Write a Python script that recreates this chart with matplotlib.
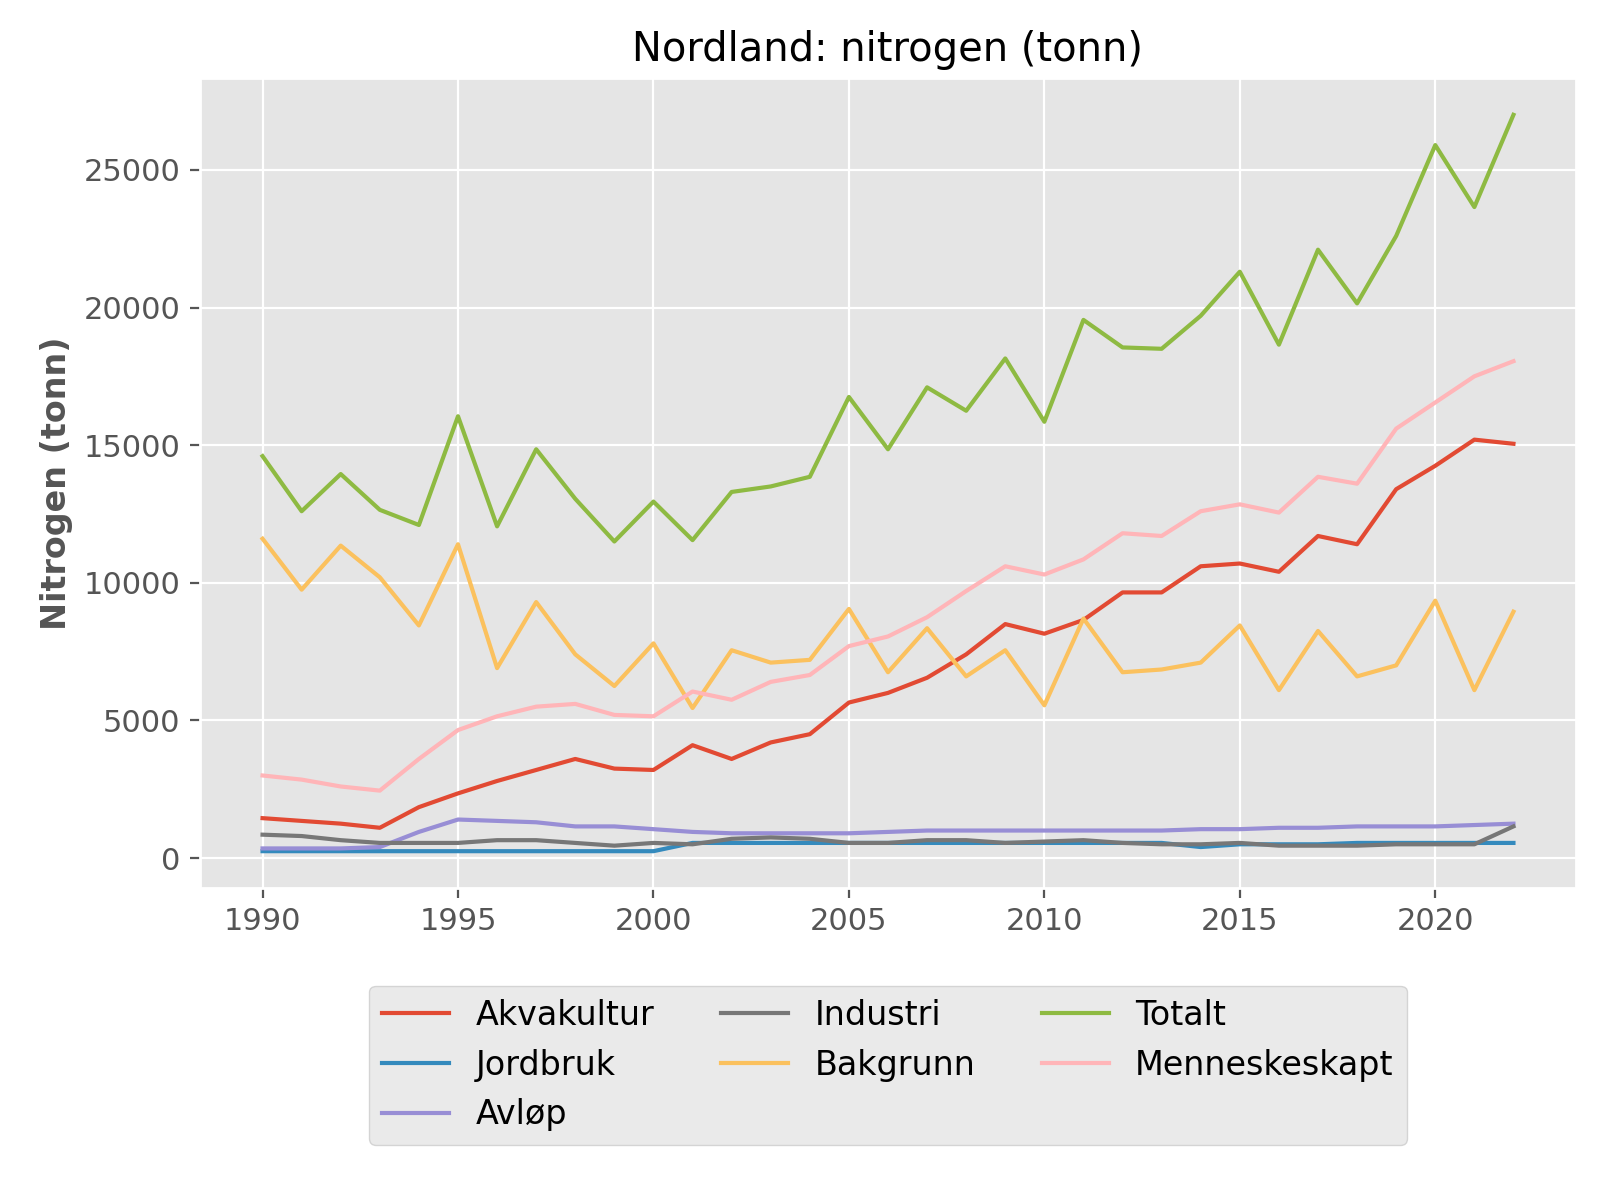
import matplotlib
matplotlib.use("Agg")
import matplotlib.pyplot as plt
import numpy as np

plt.style.use("ggplot")

years = np.arange(1990, 2023)
akvakultur = [1450, 1350, 1250, 1100, 1850, 2350, 2800, 3200, 3600, 3250, 3200, 4100, 3600, 4200, 4500,
              5650, 6000, 6550, 7400, 8500, 8150, 8650, 9650, 9650, 10600, 10700, 10400, 11700, 11400,
              13400, 14250, 15200, 15050]
jordbruk = [250, 250, 250, 250, 250, 250, 250, 250, 250, 250, 250, 550, 550, 550, 550, 550, 550, 550, 550,
            550, 550, 550, 550, 550, 400, 500, 500, 500, 550, 550, 550, 550, 550]
avlop = [350, 350, 350, 400, 950, 1400, 1350, 1300, 1150, 1150, 1050, 950, 900, 900, 900, 900, 950, 1000,
         1000, 1000, 1000, 1000, 1000, 1000, 1050, 1050, 1100, 1100, 1150, 1150, 1150, 1200, 1250]
industri = [850, 800, 650, 550, 550, 550, 650, 650, 550, 450, 550, 500, 700, 750, 700, 550, 550, 650, 650,
            550, 600, 650, 550, 500, 500, 550, 450, 450, 450, 500, 500, 500, 1150]
bakgrunn = [11600, 9750, 11350, 10200, 8450, 11400, 6900, 9300, 7400, 6250, 7800, 5450, 7550, 7100, 7200,
            9050, 6750, 8350, 6600, 7550, 5550, 8700, 6750, 6850, 7100, 8450, 6100, 8250, 6600, 7000,
            9350, 6100, 8950]
totalt = [14600, 12600, 13950, 12650, 12100, 16050, 12050, 14850, 13050, 11500, 12950, 11550, 13300, 13500,
          13850, 16750, 14850, 17100, 16250, 18150, 15850, 19550, 18550, 18500, 19700, 21300, 18650, 22100,
          20150, 22600, 25900, 23650, 27000]
menneskeskapt = [3000, 2850, 2600, 2450, 3600, 4650, 5150, 5500, 5600, 5200, 5150, 6050, 5750, 6400, 6650,
                 7700, 8050, 8750, 9700, 10600, 10300, 10850, 11800, 11700, 12600, 12850, 12550, 13850,
                 13600, 15600, 16550, 17500, 18050]

series = [("Akvakultur", akvakultur), ("Jordbruk", jordbruk), ("Avløp", avlop), ("Industri", industri),
          ("Bakgrunn", bakgrunn), ("Totalt", totalt), ("Menneskeskapt", menneskeskapt)]

fig, ax = plt.subplots(figsize=(8, 6), dpi=200)
for name, vals in series:
    ax.plot(years, vals, label=name)
ax.set_title("Nordland: nitrogen (tonn)")
ax.set_ylabel("Nitrogen (tonn)", fontweight="bold")
ax.tick_params(labelsize=11)
ax.legend(loc="upper center", bbox_to_anchor=(0.5, -0.1), ncol=3, fontsize=12)
fig.subplots_adjust(left=0.125, right=0.985, top=0.935, bottom=0.26)
fig.savefig("out.png")
